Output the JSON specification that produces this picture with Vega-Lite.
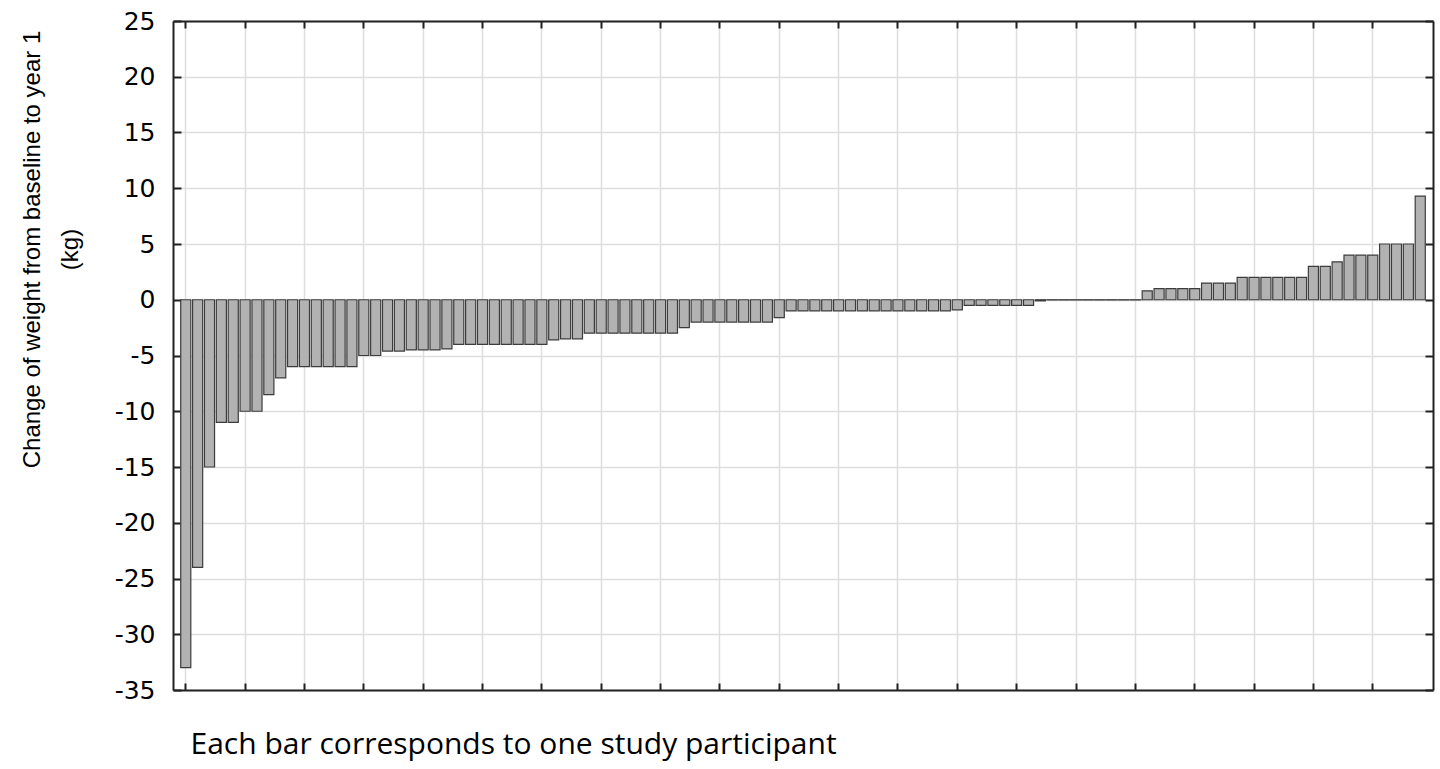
{
  "$schema": "https://vega.github.io/schema/vega-lite/v6.json",
  "autosize": "none",
  "padding": {"left": 173, "top": 21, "right": 7, "bottom": 79},
  "width": 1260,
  "height": 669,
  "background": "white",
  "config": {"view": {"stroke": null}},
  "data": {"values": [
    {"id": 1, "v": -33}, {"id": 2, "v": -24}, {"id": 3, "v": -15}, {"id": 4, "v": -11}, {"id": 5, "v": -11},
    {"id": 6, "v": -10}, {"id": 7, "v": -10}, {"id": 8, "v": -8.5}, {"id": 9, "v": -7}, {"id": 10, "v": -6},
    {"id": 11, "v": -6}, {"id": 12, "v": -6}, {"id": 13, "v": -6}, {"id": 14, "v": -6}, {"id": 15, "v": -6},
    {"id": 16, "v": -5}, {"id": 17, "v": -5}, {"id": 18, "v": -4.6}, {"id": 19, "v": -4.6}, {"id": 20, "v": -4.5},
    {"id": 21, "v": -4.5}, {"id": 22, "v": -4.5}, {"id": 23, "v": -4.4}, {"id": 24, "v": -4}, {"id": 25, "v": -4},
    {"id": 26, "v": -4}, {"id": 27, "v": -4}, {"id": 28, "v": -4}, {"id": 29, "v": -4}, {"id": 30, "v": -4},
    {"id": 31, "v": -4}, {"id": 32, "v": -3.6}, {"id": 33, "v": -3.5}, {"id": 34, "v": -3.5}, {"id": 35, "v": -3},
    {"id": 36, "v": -3}, {"id": 37, "v": -3}, {"id": 38, "v": -3}, {"id": 39, "v": -3}, {"id": 40, "v": -3},
    {"id": 41, "v": -3}, {"id": 42, "v": -3}, {"id": 43, "v": -2.5}, {"id": 44, "v": -2}, {"id": 45, "v": -2},
    {"id": 46, "v": -2}, {"id": 47, "v": -2}, {"id": 48, "v": -2}, {"id": 49, "v": -2}, {"id": 50, "v": -2},
    {"id": 51, "v": -1.6}, {"id": 52, "v": -1}, {"id": 53, "v": -1}, {"id": 54, "v": -1}, {"id": 55, "v": -1},
    {"id": 56, "v": -1}, {"id": 57, "v": -1}, {"id": 58, "v": -1}, {"id": 59, "v": -1}, {"id": 60, "v": -1},
    {"id": 61, "v": -1}, {"id": 62, "v": -1}, {"id": 63, "v": -1}, {"id": 64, "v": -1}, {"id": 65, "v": -1},
    {"id": 66, "v": -0.9}, {"id": 67, "v": -0.5}, {"id": 68, "v": -0.5}, {"id": 69, "v": -0.5}, {"id": 70, "v": -0.5},
    {"id": 71, "v": -0.5}, {"id": 72, "v": -0.5}, {"id": 73, "v": -0.1}, {"id": 74, "v": 0}, {"id": 75, "v": 0},
    {"id": 76, "v": 0}, {"id": 77, "v": 0}, {"id": 78, "v": 0}, {"id": 79, "v": 0}, {"id": 80, "v": 0},
    {"id": 81, "v": 0}, {"id": 82, "v": 0.8}, {"id": 83, "v": 1}, {"id": 84, "v": 1}, {"id": 85, "v": 1},
    {"id": 86, "v": 1}, {"id": 87, "v": 1.5}, {"id": 88, "v": 1.5}, {"id": 89, "v": 1.5}, {"id": 90, "v": 2},
    {"id": 91, "v": 2}, {"id": 92, "v": 2}, {"id": 93, "v": 2}, {"id": 94, "v": 2}, {"id": 95, "v": 2},
    {"id": 96, "v": 3}, {"id": 97, "v": 3}, {"id": 98, "v": 3.4}, {"id": 99, "v": 4}, {"id": 100, "v": 4},
    {"id": 101, "v": 4}, {"id": 102, "v": 5}, {"id": 103, "v": 5}, {"id": 104, "v": 5}, {"id": 105, "v": 9.3}
  ]},
  "resolve": {"axis": {"x": "independent", "y": "independent"}},
  "layer": [
    {
      "mark": {"type": "bar", "fill": "#b2b2b2", "stroke": "#3c3c3c", "strokeWidth": 1.2},
      "encoding": {
        "x": {
          "field": "id", "type": "ordinal", "sort": "ascending",
          "scale": {"paddingInner": 0.15, "paddingOuter": 0.65},
          "axis": {
            "orient": "bottom",
            "values": [1, 6, 11, 16, 21, 26, 31, 36, 41, 46, 51, 56, 61, 66, 71, 76, 81, 86, 91, 96, 101],
            "bandPosition": 0.5,
            "labels": false,
            "ticks": true, "tickSize": -7, "tickColor": "#222", "tickWidth": 2,
            "domain": true, "domainColor": "#222", "domainWidth": 2,
            "grid": true, "gridColor": "#dedede", "gridWidth": 1.5,
            "title": "Each bar corresponds to one study participant",
            "titleFont": "Open Sans", "titleFontSize": 30, "titleFontWeight": "normal", "titleColor": "#000",
            "titleAnchor": "start", "titleAlign": "left", "titleBaseline": "alphabetic",
            "titleX": 17, "titleY": 63
          }
        },
        "y": {
          "field": "v", "type": "quantitative",
          "scale": {"domain": [-35, 25], "nice": false, "zero": false},
          "axis": {
            "orient": "left",
            "values": [-35, -30, -25, -20, -15, -10, -5, 0, 5, 10, 15, 20, 25],
            "labelExpr": "toString(datum.value)",
            "labelFont": "DejaVu Sans", "labelFontSize": 25, "labelColor": "#000",
            "labelPadding": 26,
            "ticks": true, "tickSize": -8, "tickColor": "#222", "tickWidth": 2,
            "domain": true, "domainColor": "#222", "domainWidth": 2,
            "grid": true, "gridColor": "#dedede", "gridWidth": 1.5,
            "title": ["Change of weight from baseline to year 1", "(kg)"],
            "titleFont": "Liberation Sans", "titleFontSize": 24, "titleFontWeight": "normal", "titleColor": "#000",
            "titleAngle": -90, "titleAlign": "center", "titleBaseline": "alphabetic",
            "titleX": -134, "titleY": 228, "titleLineHeight": 38
          }
        }
      }
    },
    {
      "transform": [{"filter": "datum.v == 0"}],
      "mark": {"type": "bar", "fill": "#b2b2b2", "stroke": "#555555", "strokeWidth": 1.5, "width": {"band": 1.2}},
      "encoding": {
        "x": {"field": "id", "type": "ordinal", "sort": "ascending", "axis": null},
        "y": {"field": "v", "type": "quantitative", "axis": null}
      }
    },
    {
      "mark": {"type": "bar", "opacity": 0},
      "encoding": {
        "x": {
          "field": "id", "type": "ordinal", "sort": "ascending",
          "axis": {
            "orient": "top",
            "values": [1, 6, 11, 16, 21, 26, 31, 36, 41, 46, 51, 56, 61, 66, 71, 76, 81, 86, 91, 96, 101],
            "bandPosition": 0.5, "labels": false, "grid": false, "title": null,
            "ticks": true, "tickSize": -7, "tickColor": "#222", "tickWidth": 2,
            "domain": true, "domainColor": "#222", "domainWidth": 2
          }
        },
        "y": {
          "field": "v", "type": "quantitative",
          "axis": {
            "orient": "right",
            "values": [-35, -30, -25, -20, -15, -10, -5, 0, 5, 10, 15, 20, 25],
            "labels": false, "grid": false, "title": null,
            "ticks": true, "tickSize": -8, "tickColor": "#222", "tickWidth": 2,
            "domain": true, "domainColor": "#222", "domainWidth": 2
          }
        }
      }
    }
  ]
}
